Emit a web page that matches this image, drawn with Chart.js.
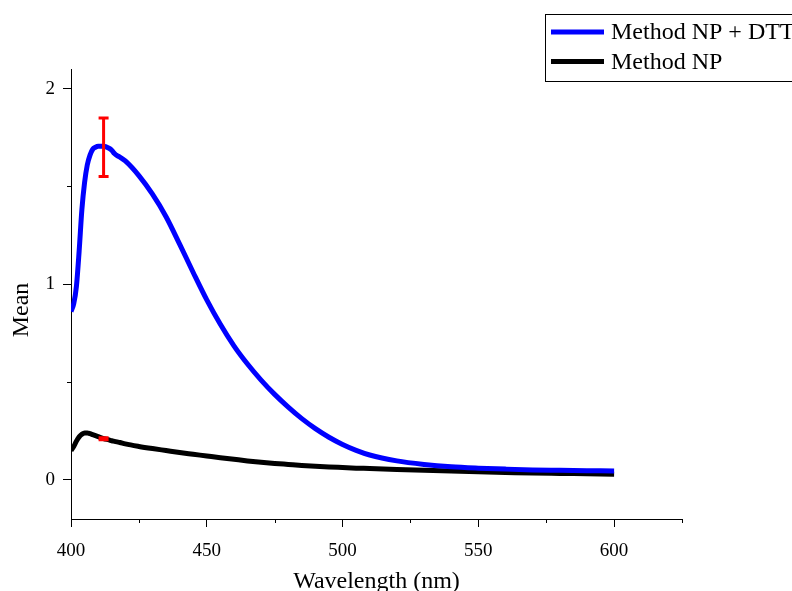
<!DOCTYPE html>
<html>
<head>
<meta charset="utf-8">
<script src="https://cdn.jsdelivr.net/npm/chart.js@4/dist/chart.umd.min.js"></script>
<style>
  html, body { margin: 0; padding: 0; background: #fff; }
  #wrap { width: 792px; height: 591px; position: relative; }
</style>
</head>
<body>
<div id="wrap"><canvas id="spec"></canvas></div>
<script>
// absorbance spectra, mean of replicates
const wavelengths = [400, 401, 402, 403, 404, 405, 406, 407, 408, 409, 410, 412, 414, 415, 416, 417, 418, 420,
    425, 430, 435, 440, 445, 450, 455, 460, 465, 470, 475, 480, 485, 490, 495, 500,
    505, 510, 520, 530, 540, 550, 560, 570, 580, 590, 600];
const meanDTT = [0.86, 0.90, 0.99, 1.17, 1.38, 1.52, 1.61, 1.66, 1.69, 1.70, 1.705, 1.705, 1.695, 1.685, 1.668, 1.657, 1.65, 1.63,
    1.555, 1.46, 1.345, 1.205, 1.06, 0.92, 0.795, 0.685, 0.592, 0.51, 0.437, 0.372, 0.313, 0.262, 0.218, 0.181,
    0.151, 0.127, 0.097, 0.079, 0.067, 0.06, 0.055, 0.051, 0.049, 0.047, 0.045];
const meanNP = [0.15, 0.17, 0.198, 0.22, 0.233, 0.24, 0.24, 0.236, 0.231, 0.226, 0.221, 0.211, 0.204, 0.2, 0.197, 0.194, 0.191, 0.184,
    0.171, 0.16, 0.15, 0.14, 0.131, 0.122, 0.113, 0.105, 0.097, 0.09, 0.084, 0.079, 0.074, 0.07, 0.066, 0.063,
    0.06, 0.058, 0.053, 0.049, 0.045, 0.041, 0.038, 0.035, 0.033, 0.031, 0.029];

// error bar at the peak (mean ± sd), one per series
const errWl = [412, 412];
const errMean = [1.70, 0.21];
const errSD = [0.15, 0.005];

const seriesNames = ['Method NP + DTT', 'Method NP'];
const seriesColors = ['#0000ff', '#000000'];

const xTicks = [400, 450, 500, 550, 600];
const xMinor = [425, 475, 525, 575, 625];
const yTicks = [0, 1, 2];
const yMinor = [0.5, 1.5];

const serif = "'Liberation Serif', 'Times New Roman', serif";

const pts = vals => wavelengths.map((w, i) => ({ x: w, y: vals[i] }));

const errorBars = {
    id: 'errorBars',
    afterDatasetsDraw(chart) {
        const { ctx, scales: { x, y } } = chart;
        ctx.save();
        ctx.strokeStyle = '#ff0000';
        ctx.lineWidth = 3;
        errWl.forEach((w, i) => {
            const px = x.getPixelForValue(w);
            const top = y.getPixelForValue(errMean[i] + errSD[i]);
            const bot = y.getPixelForValue(errMean[i] - errSD[i]);
            ctx.beginPath();
            ctx.moveTo(px, top); ctx.lineTo(px, bot);
            ctx.moveTo(px - 5, top); ctx.lineTo(px + 5, top);
            ctx.moveTo(px - 5, bot); ctx.lineTo(px + 5, bot);
            ctx.stroke();
        });
        ctx.restore();
    }
};

// minor ticks and the y title, which sits a little below the axis middle
const axisExtras = {
    id: 'axisExtras',
    afterDraw(chart) {
        const { ctx, scales: { x, y }, chartArea } = chart;
        ctx.save();
        ctx.strokeStyle = '#000';
        ctx.lineWidth = 1;
        ctx.beginPath();
        xMinor.forEach(v => {
            const px = Math.round(x.getPixelForValue(v)) + 0.5;
            ctx.moveTo(px, chartArea.bottom); ctx.lineTo(px, chartArea.bottom + 4);
        });
        yMinor.forEach(v => {
            const py = Math.round(y.getPixelForValue(v)) + 0.5;
            ctx.moveTo(chartArea.left, py); ctx.lineTo(chartArea.left - 4, py);
        });
        ctx.stroke();

        ctx.translate(22, 310);
        ctx.rotate(-Math.PI / 2);
        ctx.fillStyle = '#000';
        ctx.font = '24px ' + serif;
        ctx.textAlign = 'center';
        ctx.textBaseline = 'middle';
        ctx.fillText('Mean', 0, 0);
        ctx.restore();
    }
};

const boxLegend = {
    id: 'boxLegend',
    afterDraw(chart) {
        const ctx = chart.ctx;
        ctx.save();
        ctx.strokeStyle = '#000';
        ctx.lineWidth = 1;
        ctx.strokeRect(545.5, 14.5, 260, 67);
        ctx.font = '24px ' + serif;
        ctx.textBaseline = 'middle';
        seriesNames.forEach((name, i) => {
            const yy = 32 + i * 29.5;
            ctx.strokeStyle = seriesColors[i];
            ctx.lineWidth = 5;
            ctx.beginPath();
            ctx.moveTo(551, yy); ctx.lineTo(604, yy);
            ctx.stroke();
            ctx.fillStyle = '#000';
            ctx.fillText(name, 611, yy + 1);
        });
        ctx.restore();
    }
};

new Chart(document.getElementById('spec'), {
    type: 'line',
    data: {
        datasets: [
            { label: seriesNames[0], data: pts(meanDTT), borderColor: seriesColors[0], borderWidth: 5, pointRadius: 0, cubicInterpolationMode: 'monotone', fill: false },
            { label: seriesNames[1], data: pts(meanNP), borderColor: seriesColors[1], borderWidth: 5, pointRadius: 0, cubicInterpolationMode: 'monotone', fill: false }
        ]
    },
    options: {
        responsive: true,
        maintainAspectRatio: false,
        animation: false,
        layout: { padding: { top: 69, right: 110, left: 0, bottom: 0 } },
        plugins: { legend: { display: false }, tooltip: { enabled: false } },
        scales: {
            x: {
                type: 'linear', min: 400, max: 625,
                afterBuildTicks: s => { s.ticks = xTicks.map(v => ({ value: v })); },
                afterFit: s => { s.height = 72; },
                border: { display: true, color: '#000', width: 1 },
                grid: { display: true, drawOnChartArea: false, drawTicks: true, tickLength: 8, tickColor: '#000', color: '#000' },
                ticks: { color: '#000', font: { family: serif, size: 19 }, padding: 13, maxRotation: 0 },
                title: { display: true, text: 'Wavelength (nm)', color: '#000', font: { family: serif, size: 24, lineHeight: 0.8 }, padding: 0 }
            },
            y: {
                type: 'linear', min: -0.2, max: 2.1,
                afterBuildTicks: s => { s.ticks = yTicks.map(v => ({ value: v })); },
                afterFit: s => { s.width = 71; },
                border: { display: true, color: '#000', width: 1 },
                grid: { display: true, drawOnChartArea: false, drawTicks: true, tickLength: 8, tickColor: '#000', color: '#000' },
                ticks: { color: '#000', font: { family: serif, size: 19 }, padding: 8 },
                title: { display: false }
            }
        }
    },
    plugins: [errorBars, axisExtras, boxLegend]
});
</script>
</body>
</html>
